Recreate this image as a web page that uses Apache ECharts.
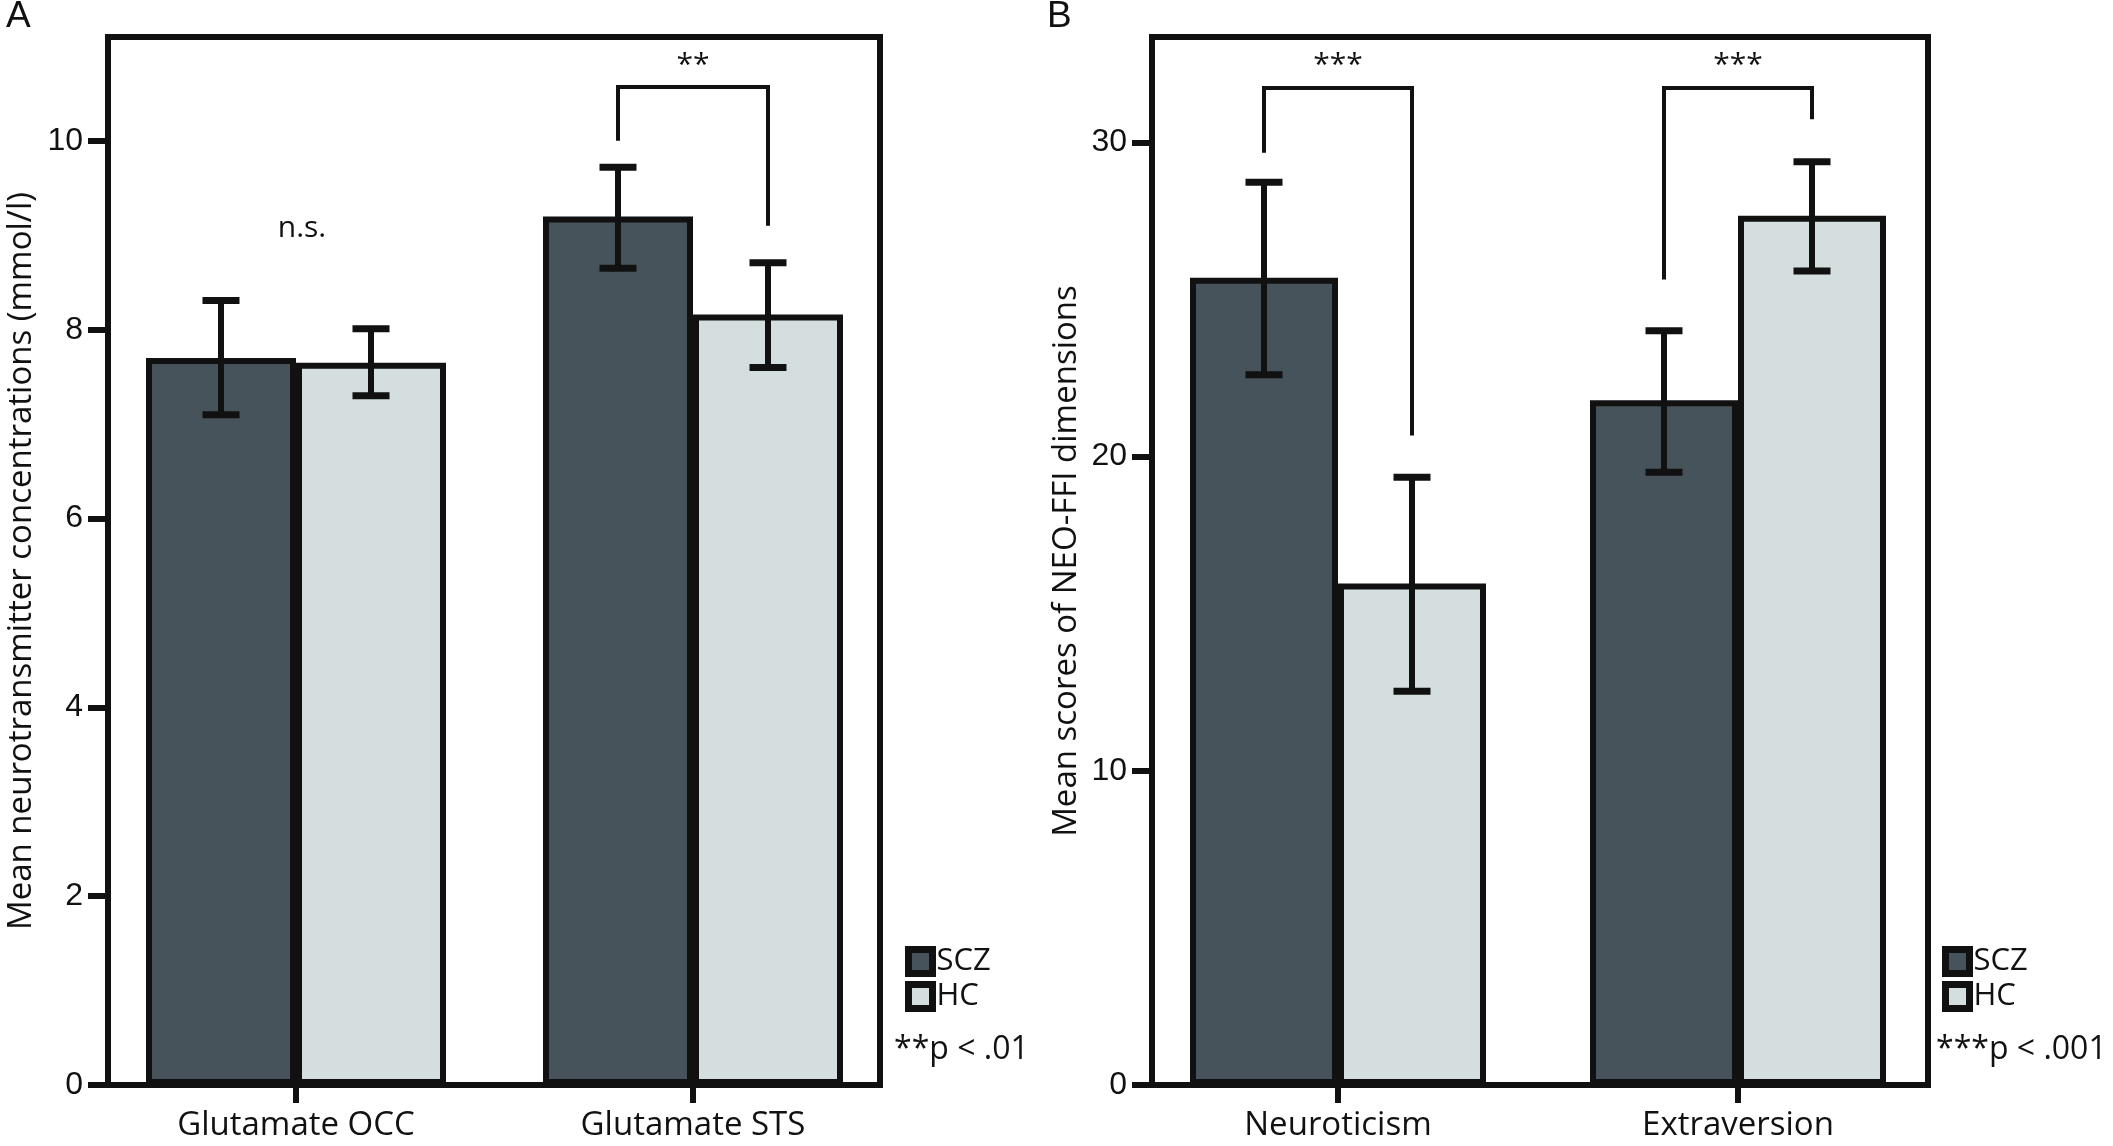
<!DOCTYPE html>
<html>
<head>
<meta charset="utf-8">
<script src="https://cdn.jsdelivr.net/npm/echarts@6/dist/echarts.min.js"></script>
<style>
  html, body { margin: 0; background: #fff; }
  #chart { width: 2113px; height: 1146px; }
</style>
</head>
<body>
<div id="chart"></div>
<script>
// ---- panel A: glutamate ----
const catsA = ["Glutamate OCC", "Glutamate STS"];
const sczA = [7.70, 9.20];
const hcA = [7.65, 8.16];
const sczErrA = [[7.10, 8.31], [8.65, 9.72]];   // [low, high]
const hcErrA = [[7.30, 8.01], [7.60, 8.71]];
const ticksA = [0, 2, 4, 6, 8, 10];
const bracketsA = [[1, 10.0, 10.57, 9.1]];      // [category, left end, top, right end]
const bracketTextA = ["**"];
const nsA = [[0, 9.07]];
const nsTextA = ["n.s."];

// ---- panel B: NEO-FFI ----
const catsB = ["Neuroticism", "Extraversion"];
const sczB = [25.69, 21.79];
const hcB = [15.96, 27.66];
const sczErrB = [[22.6, 28.73], [19.5, 24.0]];
const hcErrB = [[12.53, 19.34], [25.9, 29.38]];
const ticksB = [0, 10, 20, 30];
const bracketsB = [[0, 29.67, 31.73, 20.67], [1, 25.63, 31.73, 30.73]];
const bracketTextB = ["***", "***"];

const INK = "#111";
const DARK = "#47535a";
const LIGHT = "#d5dedf";
const SANS = "Open Sans";

function errorItem(offset) {
  return function (params, api) {
    const hi = api.coord([api.value(0), api.value(2)]);
    const lo = api.coord([api.value(0), api.value(1)]);
    const x = hi[0] + offset;
    const cap = 37;
    return {
      type: "group",
      children: [
        { type: "line", shape: { x1: x, y1: hi[1], x2: x, y2: lo[1] }, style: { stroke: INK, lineWidth: 6 } },
        { type: "line", shape: { x1: x - cap / 2, y1: hi[1], x2: x + cap / 2, y2: hi[1] }, style: { stroke: INK, lineWidth: 7 } },
        { type: "line", shape: { x1: x - cap / 2, y1: lo[1], x2: x + cap / 2, y2: lo[1] }, style: { stroke: INK, lineWidth: 7 } }
      ]
    };
  };
}

function bracketItem(half, texts) {
  return function (params, api) {
    const c = api.value(0);
    const l = api.coord([c, api.value(1)]);
    const t = api.coord([c, api.value(2)]);
    const r = api.coord([c, api.value(3)]);
    const x1 = l[0] - half, x2 = l[0] + half;
    return {
      type: "group",
      children: [
        { type: "polyline", shape: { points: [[x1, l[1]], [x1, t[1]], [x2, t[1]], [x2, r[1]]] },
          style: { stroke: INK, lineWidth: 4, fill: null } },
        { type: "text", x: l[0], y: t[1] - 22,
          style: { text: texts[params.dataIndex], fontSize: 30, fontFamily: SANS, fill: INK, align: "center", verticalAlign: "middle" } }
      ]
    };
  };
}

function textItem(texts) {
  return function (params, api) {
    const p = api.coord([api.value(0), api.value(1)]);
    return { type: "text", x: p[0] + 6, y: p[1],
      style: { text: texts[params.dataIndex], fontSize: 30, fontFamily: SANS, fill: INK, align: "center", verticalAlign: "middle" } };
  };
}

function panel(idx, cats, scz, hc, sczErr, hcErr, brackets, bracketText, barW) {
  const ax = { xAxisIndex: idx, yAxisIndex: idx };
  const barStyle = c => ({ color: c, borderColor: INK, borderWidth: 6 });
  return [
    { name: "SCZ", type: "bar", ...ax, data: scz, barWidth: barW, barGap: "0%", itemStyle: barStyle(DARK), silent: true },
    { name: "HC", type: "bar", ...ax, data: hc, barWidth: barW, barGap: "0%", itemStyle: barStyle(LIGHT), silent: true },
    { type: "custom", ...ax, z: 5, renderItem: errorItem(-barW / 2), encode: { x: 0, y: [1, 2] },
      data: sczErr.map((e, i) => [i, e[0], e[1]]) },
    { type: "custom", ...ax, z: 5, renderItem: errorItem(barW / 2), encode: { x: 0, y: [1, 2] },
      data: hcErr.map((e, i) => [i, e[0], e[1]]) },
    { type: "custom", ...ax, z: 5, renderItem: bracketItem(barW / 2, bracketText), encode: { x: 0, y: [1, 2, 3] },
      data: brackets }
  ];
}

function frameY(grid, max, ticks, title, gap) {
  return {
    gridIndex: grid, type: "value", min: 0, max: max,
    axisLine: { show: false }, splitLine: { show: false },
    axisTick: { show: true, length: 20, lineStyle: { width: 6, color: INK }, customValues: ticks },
    axisLabel: { customValues: ticks, fontSize: 32, fontFamily: "Liberation Sans", color: INK, margin: 25 },
    name: title, nameLocation: "middle", nameGap: gap, nameMoveOverlap: false,
    nameTextStyle: { fontSize: 33, fontFamily: SANS, color: INK }
  };
}

function barX(grid, cats) {
  return {
    gridIndex: grid, type: "category", data: cats,
    axisLine: { show: false },
    axisTick: { show: true, alignWithLabel: true, length: 18, lineStyle: { width: 6, color: INK } },
    axisLabel: { fontSize: 33, fontFamily: SANS, color: INK, margin: 24 }
  };
}

const maxA = 11.1, maxB = 33.35;
const noBounds = { containLabel: false, outerBoundsMode: "none" };
const frame = { show: true, borderWidth: 6, borderColor: INK, backgroundColor: "transparent", ...noBounds };

const legendBase = {
  orient: "vertical", data: ["SCZ", "HC"], icon: "rect",
  itemWidth: 24, itemHeight: 24, itemGap: 4, selectedMode: false,
  itemStyle: { borderWidth: 7, borderColor: INK },
  textStyle: { fontSize: 31, fontFamily: SANS, color: INK, padding: [0, 0, 0, -1] }
};

const option = {
  animation: false,
  backgroundColor: "#fff",
  grid: [
    { left: 108, top: 37, width: 772, height: 1048, ...frame },
    { left: 97.5, top: 37, width: 794, height: 1048, ...noBounds },
    { left: 1152, top: 37, width: 776, height: 1048, ...frame },
    { left: 1138, top: 37, width: 800, height: 1048, ...noBounds }
  ],
  xAxis: [
    { gridIndex: 0, type: "value", show: false, min: 0, max: 1 },
    barX(1, catsA),
    { gridIndex: 2, type: "value", show: false, min: 0, max: 1 },
    barX(3, catsB)
  ],
  yAxis: [
    frameY(0, maxA, ticksA, "Mean neurotransmitter concentrations (mmol/l)", 70),
    { gridIndex: 1, type: "value", min: 0, max: maxA, show: false },
    frameY(2, maxB, ticksB, "Mean scores of NEO-FFI dimensions", 69),
    { gridIndex: 3, type: "value", min: 0, max: maxB, show: false }
  ],
  legend: [
    { ...legendBase, left: 900, top: 941 },
    { ...legendBase, left: 1937, top: 941 }
  ],
  graphic: [
    { type: "text", x: 6, y: 17, style: { text: "A", fontSize: 37, fontFamily: "Liberation Sans", fill: INK, verticalAlign: "middle" } },
    { type: "text", x: 1047, y: 17, style: { text: "B", fontSize: 37, fontFamily: "Liberation Sans", fill: INK, verticalAlign: "middle" } },
    { type: "text", x: 894, y: 1050, style: { text: "**p < .01", fontSize: 32, fontFamily: SANS, fill: INK, verticalAlign: "middle" } },
    { type: "text", x: 1936, y: 1050, style: { text: "***p < .001", fontSize: 32, fontFamily: SANS, fill: INK, verticalAlign: "middle" } }
  ],
  series: [
    ...panel(1, catsA, sczA, hcA, sczErrA, hcErrA, bracketsA, bracketTextA, 150),
    { type: "custom", xAxisIndex: 1, yAxisIndex: 1, z: 5, renderItem: textItem(nsTextA), encode: { x: 0, y: 1 }, data: nsA },
    ...panel(3, catsB, sczB, hcB, sczErrB, hcErrB, bracketsB, bracketTextB, 148)
  ]
};

const chart = echarts.init(document.getElementById("chart"));
chart.setOption(option);
</script>
</body>
</html>
